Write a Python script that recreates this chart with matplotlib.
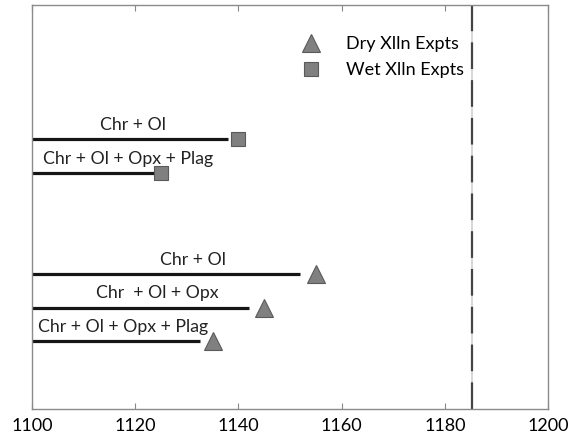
import matplotlib
matplotlib.use('Agg')
import matplotlib.pyplot as plt

plt.rcParams['font.family'] = ['Lato', 'DejaVu Sans']

# wet crystallisation experiments
wet_temp = [1140, 1125]
wet_line_end = [1138, 1124]
wet_y = [8, 7]
wet_labels = ['Chr + Ol', 'Chr + Ol + Opx + Plag']
wet_label_x = [1119.6, 1118.6]

# dry crystallisation experiments
dry_temp = [1155, 1145, 1135]
dry_line_end = [1152, 1142, 1132.5]
dry_y = [4, 3, 2]
dry_labels = ['Chr + Ol', 'Chr  + Ol + Opx', 'Chr + Ol + Opx + Plag']
dry_label_x = [1131.2, 1124.2, 1117.6]

liquidus = 1185.3
xticks = [1100, 1120, 1140, 1160, 1180, 1200]

fig = plt.figure(figsize=(5.71, 4.40), dpi=100)
ax = fig.add_axes([0.056, 0.071, 0.904, 0.918])

line_kw = dict(color='#151515', lw=2.3, solid_capstyle='butt')
for t, y in zip(wet_line_end, wet_y):
    ax.plot([1100, t], [y, y], **line_kw)
for t, y in zip(dry_line_end, dry_y):
    ax.plot([1100, t], [y, y], **line_kw)

for x, y, s in zip(wet_label_x, wet_y, wet_labels):
    ax.text(x, y + 0.43, s, ha='center', va='center', fontsize=12.8, color='#222222')
for x, y, s in zip(dry_label_x, dry_y, dry_labels):
    ax.text(x, y + 0.43, s, ha='center', va='center', fontsize=12.8, color='#222222')

ax.plot(dry_temp, dry_y, ls='none', marker='^', ms=13, mfc='#808080', mec='#5a5a5a',
        mew=0.8, label='Dry Xlln Expts')
ax.plot(wet_temp, wet_y, ls='none', marker='s', ms=10, mfc='#808080', mec='#5a5a5a',
        mew=0.8, label='Wet Xlln Expts')

# dashed liquidus line
ax.axvline(liquidus, color='#d0d0d0', lw=1.2, zorder=1)
ax.axvline(liquidus, color='#444444', lw=1.6, dashes=(12, 5), zorder=2)

ax.set_xlim(1100, 1200)
ax.set_ylim(0, 12)
ax.set_xticks(xticks)
ax.set_yticks([])
ax.tick_params(axis='x', direction='in', top=True, length=4, color='#888888',
               labelsize=13, pad=7)
for sp in ax.spines.values():
    sp.set_color('#8a8a8a')
    sp.set_linewidth(1.0)

ax.legend(loc='upper left', bbox_to_anchor=(0.489, 0.945), frameon=False, fontsize=13,
          handletextpad=0.9, labelspacing=0.55, borderpad=0)

fig.savefig('out.png', dpi=100)
